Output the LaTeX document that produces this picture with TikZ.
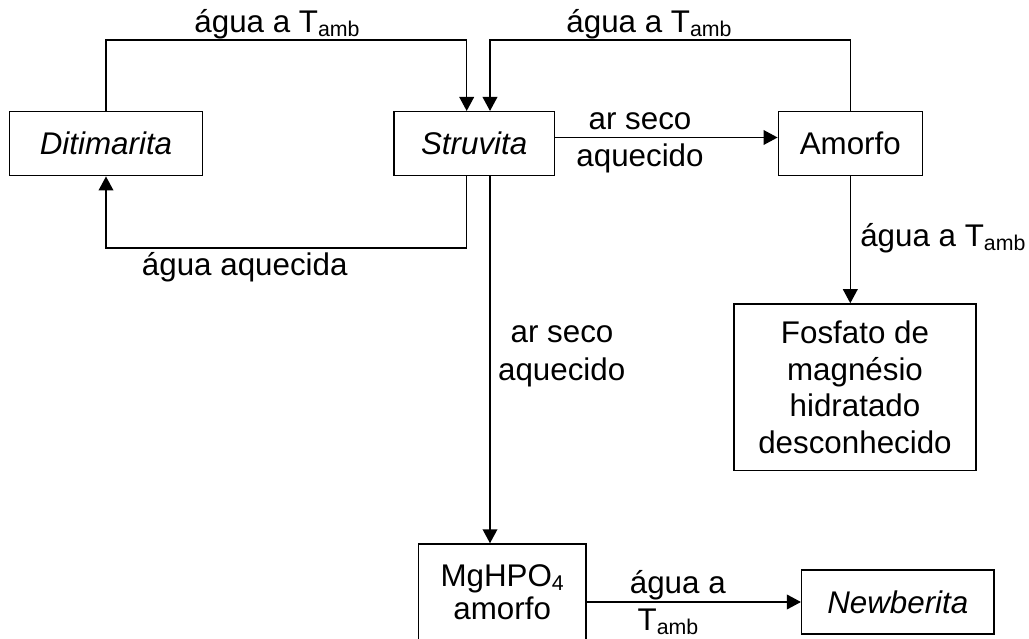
\documentclass[tikz,border=0pt]{standalone}
\usepackage{fontspec}
\setmainfont{Liberation Sans}
\usetikzlibrary{arrows.meta}
\newcommand\lowidx[1]{\raisebox{-3pt}{\fontsize{16}{16}\selectfont #1}}
\tikzset{
  every node/.style={font=\fontsize{23.5}{27.5}\selectfont, inner sep=0pt},
  boxnode/.style={draw, line width=1.1pt, align=center},
  arr/.style={line width=1.1pt, -{Triangle[length=10.5pt,width=11pt]}},
  lbl/.style={anchor=base}
}
\begin{document}
\begin{tikzpicture}[x=0.75pt,y=-0.75pt]
\useasboundingbox (0,0) rectangle (1029,639);
% boxes
\node[boxnode, minimum width=144.45pt, minimum height=48pt] (dit) at (106,143.7) {\itshape Ditimarita};
\node[boxnode, minimum width=120.2pt, minimum height=48pt] (stru) at (474.2,143.7) {\itshape Struvita};
\node[boxnode, minimum width=108pt, minimum height=48pt] (amo) at (850.3,143.7) {Amorfo};
\node[boxnode, minimum width=181.5pt, minimum height=125pt] (fos) at (855,387.3) {Fosfato de\\magnésio\\hidratado\\desconhecido};
\node[boxnode, minimum width=125.8pt, minimum height=72.75pt, font=\fontsize{23.5}{25}\selectfont] (mg) at (502.2,592.5) {MgHPO\lowidx{4}\\amorfo};
\node[boxnode, minimum width=144.2pt, minimum height=48.3pt] (nb) at (897.8,602) {\itshape Newberita};
% helper coordinates
\coordinate (a1) at (466.7,40);
\coordinate (a2) at (490,40);
\coordinate (b1) at (466.7,248);
\coordinate (c1) at (490,0);
\coordinate (h1) at (0,137.5);
% connectors
\draw[arr] (dit.north) |- (a1) -- (a1 |- stru.north);
\draw[arr] (amo.north) |- (a2) -- (a2 |- stru.north);
\draw[arr] (h1 -| stru.east) -- (h1 -| amo.west);
\draw[arr] (b1 |- stru.south) -- (b1) -| (dit.south);
\draw[arr] (c1 |- stru.south) -- (c1 |- mg.north);
\draw[arr] (amo.south) -- (amo.south |- fos.north);
\draw[arr] (mg.east |- nb.west) -- (nb.west);
% labels
\node[lbl] (l1) at (277,32.5) {água a T\lowidx{amb}};
\node[lbl] (l2) at (649,32.5) {água a T\lowidx{amb}};
\node[lbl] (l3a) at (640,129) {ar seco};
\node[lbl] (l3b) at (640,166) {aquecido};
\node[anchor=base west] (l4) at (860,246.7) {água a T\lowidx{amb}};
\node[anchor=base west] (l5) at (141.7,275) {água aquecida};
\node[lbl] (l6a) at (562,342.7) {ar seco};
\node[lbl] (l6b) at (561.7,380) {aquecido};
\node[lbl] (l7a) at (677.8,593.3) {água a};
\node[lbl] (l7b) at (668,630) {T\lowidx{amb}};
\end{tikzpicture}
\end{document}
